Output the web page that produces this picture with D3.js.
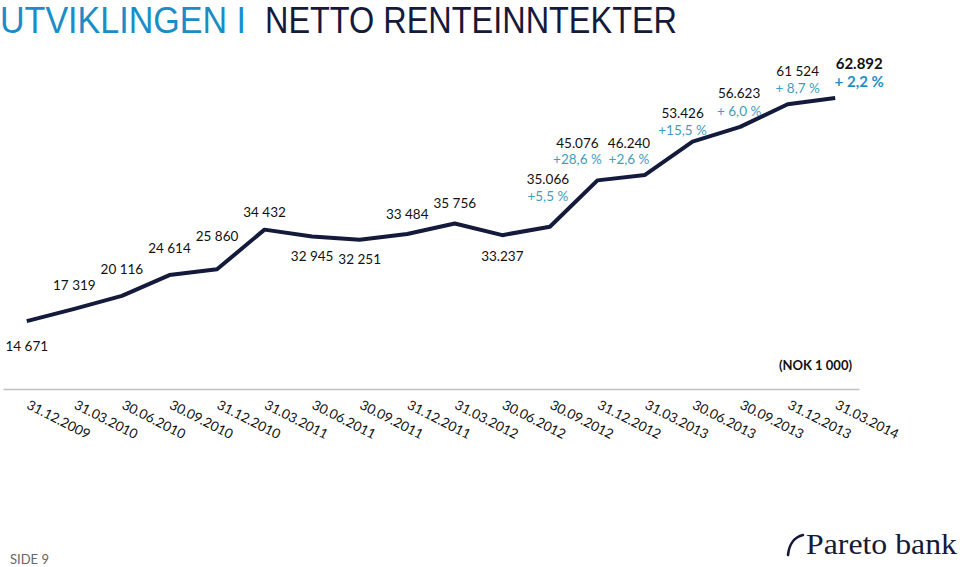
<!DOCTYPE html>
<html><head><meta charset="utf-8">
<script src="https://cdn.jsdelivr.net/npm/d3@7"></script>
<style>
html,body{margin:0;padding:0;background:#fff;}
svg{display:block;}
</style></head>
<body>
<svg id="chart" width="960" height="567"></svg>
<script>
// ---- data ----
const categories = ["31.12.2009","31.03.2010","30.06.2010","30.09.2010","31.12.2010","31.03.2011","30.06.2011","30.09.2011","31.12.2011","31.03.2012","30.06.2012","30.09.2012","31.12.2012","31.03.2013","30.06.2013","30.09.2013","31.12.2013","31.03.2014"];
const values = [14671,17319,20116,24614,25860,34432,32945,32251,33484,35756,33237,35066,45076,46240,53426,56623,61524,62892];
const valueLabels = ["14 671","17 319","20 116","24 614","25 860","34 432","32 945","32 251","33 484","35 756","33.237","35.066","45.076","46.240","53.426","56.623","61 524","62.892"];
const pctLabels = [null,null,null,null,null,null,null,null,null,null,null,"+5,5 %","+28,6 %","+2,6 %","+15,5 %","+ 6,0 %","+ 8,7 %","+ 2,2 %"];

// ---- layout (label offsets relative to each point: [dx, dyValue, dyPct]) ----
const labelOffsets = [[0,25],[0,-24],[0,-27],[0,-27],[0,-33],[0,-17],[0,20],[0,20],[0,-20],[0,-20],[0,21],
  [-2,-47,-30],[-20,-37,-21],[-16,-32,-16],[-10,-28,-11],[-1,-34,-16],[10,-33,-16],[24,-34,-16]];

const svg = d3.select("#chart");
const x = d3.scaleBand().domain(categories).range([3, 859]).padding(0);
const y = d3.scaleLinear().domain([0, 70000]).range([389, 65]);
const cx = d => x(d) + x.bandwidth() / 2;

// title
const title = svg.append("text").attr("y", 33)
  .style("font-family", "'Liberation Sans Narrow','Arial Narrow','Liberation Sans',sans-serif")
  .style("font-size", "36px");
title.append("tspan").attr("x", 0).attr("fill", "#1b8dc6")
  .attr("textLength", 246).attr("lengthAdjust", "spacingAndGlyphs").text("UTVIKLINGEN I");
title.append("tspan").attr("x", 265).attr("fill", "#15193a")
  .attr("textLength", 412).attr("lengthAdjust", "spacingAndGlyphs").text("NETTO RENTEINNTEKTER");

// x axis
const xAxis = d3.axisBottom(x).tickSize(0).tickSizeOuter(0);
const gx = svg.append("g").attr("transform", "translate(0,389)").call(xAxis);
gx.select(".domain").attr("stroke", "#c0c0c0").attr("stroke-width", 1.6);
gx.selectAll(".tick text")
  .attr("text-anchor", "start")
  .attr("transform", "translate(-1,19) rotate(27)")
  .attr("x", 0).attr("y", 0).attr("dy", "0")
  .style("font-family", "Lato, 'Open Sans', sans-serif")
  .style("font-size", "13.5px").attr("fill", "#111");

// line
const line = d3.line().x((d, i) => cx(categories[i])).y(d => y(d));
svg.append("path").datum(values).attr("d", line)
  .attr("fill", "none").attr("stroke", "#141a3c").attr("stroke-width", 4)
  .attr("stroke-linejoin", "round").attr("stroke-linecap", "butt");

// value labels
const last = values.length - 1;
svg.append("g").selectAll("text").data(values).join("text")
  .attr("x", (d, i) => cx(categories[i]) + labelOffsets[i][0])
  .attr("y", (d, i) => y(d) + labelOffsets[i][1])
  .attr("dy", "0.35em")
  .attr("text-anchor", "middle")
  .style("font-family", "Lato, 'Open Sans', sans-serif")
  .style("font-size", (d, i) => i === last ? "15px" : "13.5px")
  .style("font-weight", (d, i) => i === last ? "bold" : "normal")
  .attr("fill", "#111")
  .text((d, i) => valueLabels[i]);

// percentage labels
svg.append("g").selectAll("text").data(values.map((v, i) => i).filter(i => pctLabels[i])).join("text")
  .attr("x", i => cx(categories[i]) + labelOffsets[i][0])
  .attr("y", i => y(values[i]) + labelOffsets[i][2])
  .attr("dy", "0.35em")
  .attr("text-anchor", "middle")
  .style("font-family", "Lato, 'Open Sans', sans-serif")
  .style("font-size", i => i === last ? "15px" : "13.5px")
  .style("font-weight", i => i === last ? "bold" : "normal")
  .attr("fill", i => i === last ? "#1f8ec4" : "#3f9dbd")
  .text(i => pctLabels[i]);

// unit note
svg.append("text").attr("x", 852).attr("y", 365).attr("dy", "0.35em")
  .attr("text-anchor", "end")
  .style("font-family", "Lato, 'Open Sans', sans-serif")
  .style("font-size", "13px").style("font-weight", "bold").attr("fill", "#111")
  .text("(NOK 1 000)");

// footer
svg.append("text").attr("x", 10).attr("y", 564)
  .style("font-family", "Lato, 'Open Sans', sans-serif")
  .style("font-size", "13px").attr("fill", "#666").text("SIDE 9");

// logo
svg.append("path").attr("d", "M788,555 C789,545 794,537 803,535")
  .attr("fill", "none").attr("stroke", "#15193a").attr("stroke-width", 2.6).attr("stroke-linecap", "round");
svg.append("text").attr("x", 806).attr("y", 554)
  .attr("textLength", 151).attr("lengthAdjust", "spacingAndGlyphs")
  .style("font-family", "'Liberation Serif','DejaVu Serif',serif")
  .style("font-size", "30px").attr("fill", "#15193a").text("Pareto bank");
</script>
</body></html>
